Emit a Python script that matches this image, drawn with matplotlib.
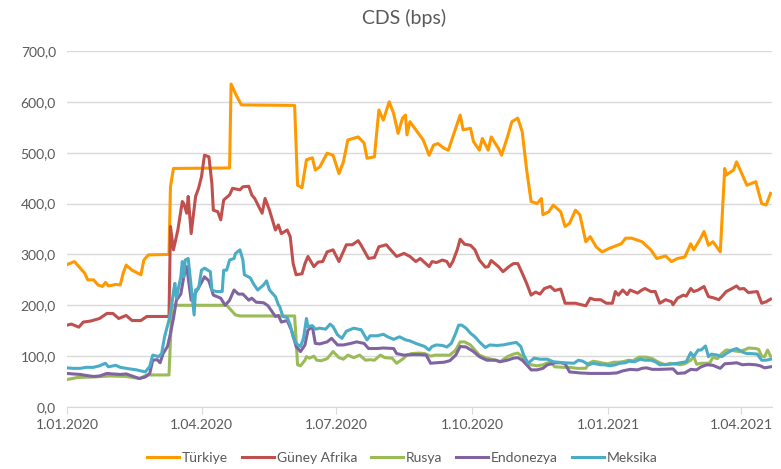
import numpy as np
import pandas as pd
import matplotlib
matplotlib.use('Agg')
import matplotlib.pyplot as plt
import matplotlib.dates as mdates
from matplotlib.ticker import FuncFormatter

plt.rcParams['font.family'] = ['Lato', 'DejaVu Sans']

# day offsets from 1.01.2020 and CDS values (bps)
tr_days = [0, 5, 9, 12, 14, 18, 21, 24, 26, 28, 33, 36, 38, 40, 44, 48, 50, 52, 55, 69, 70, 72,
           110, 111, 115, 118, 154, 156, 159, 162, 166, 168, 171, 176, 180, 184, 187, 190, 197, 201,
           203, 208, 210, 211, 214, 218, 221, 224, 227, 229, 230, 232, 237, 241, 245, 248, 251, 255,
           258, 261, 266, 268, 273, 275, 279, 281, 285, 287, 292, 294, 298, 301, 305, 308, 311, 314,
           318, 321, 322, 326, 329, 334, 337, 340, 344, 347, 351, 354, 358, 362, 367, 375, 378, 382,
           389, 395, 399, 405, 409, 413, 418, 422, 424, 428, 431, 434, 437, 442, 445, 446, 451, 453,
           457, 460, 466, 470, 473, 476]
tr_vals = [280, 286, 273, 263, 250, 250, 240, 237, 245, 238, 241, 240, 263, 279, 269, 263, 260, 289, 299, 300, 433, 469,
           470, 635, 610, 594, 593, 436, 431, 486, 490, 466, 472, 499, 495, 459, 482, 525, 531, 519,
           489, 492, 554, 584, 564, 600, 577, 538, 568, 574, 535, 561, 541, 525, 495, 515, 518, 509,
           505, 531, 574, 545, 548, 522, 505, 528, 505, 531, 508, 495, 531, 561, 568, 541, 466, 404,
           400, 410, 378, 384, 397, 384, 355, 361, 387, 378, 325, 335, 315, 305, 312, 321, 332, 332,
           325, 309, 292, 297, 286, 292, 295, 321, 309, 328, 345, 318, 325, 305, 469, 456, 466, 482,
           456, 436, 443, 400, 397, 420]

za_days = [0, 3, 8, 11, 16, 22, 27, 31, 35, 40, 44, 50, 54, 69, 70, 72, 75, 78, 79, 81, 82, 84, 87, 89,
           91, 93, 96, 98, 99, 102, 104, 106, 110, 112, 117, 119, 123, 125, 127, 132, 134, 137, 141,
           143, 145, 149, 151, 153, 155, 159, 161, 163, 167, 170, 173, 176, 180, 184, 189, 193, 197,
           199, 204, 208, 211, 216, 219, 223, 228, 232, 236, 239, 245, 247, 250, 254, 257, 259, 261,
           264, 266, 269, 273, 276, 279, 283, 285, 287, 292, 295, 299, 302, 305, 308, 311, 314, 317,
           320, 323, 327, 330, 334, 337, 344, 348, 351, 354, 357, 361, 365, 369, 371, 373, 376, 379,
           381, 386, 389, 391, 395, 398, 401, 405, 409, 410, 413, 417, 419, 422, 424, 427, 431, 434,
           437, 441, 443, 446, 450, 453, 455, 458, 461, 467, 470, 473, 476]
za_vals = [161, 163, 157, 167, 169, 174, 184, 184, 174, 180, 170, 170, 178, 178, 355, 309, 348, 404, 400, 381, 414, 341, 414, 430,
           453, 495, 492, 440, 387, 384, 368, 407, 417, 430, 427, 433, 434, 417, 410, 381, 410, 387, 348,
           358, 341, 348, 335, 282, 260, 262, 282, 296, 276, 285, 286, 305, 309, 286, 319, 319, 327,
           318, 292, 294, 315, 319, 309, 296, 302, 296, 286, 292, 276, 286, 284, 289, 286, 276, 286,
           309, 330, 320, 318, 309, 289, 275, 276, 288, 276, 266, 276, 282, 282, 263, 243, 220, 226,
           222, 233, 237, 229, 232, 204, 204, 201, 199, 214, 211, 211, 204, 204, 227, 220,
           230, 221, 230, 224, 230, 233, 227, 227, 204, 211, 207, 201, 214, 220, 218, 233, 227, 230,
           237, 217, 215, 211, 217, 227, 233, 238, 232, 233, 225, 227, 204, 207, 212]

ru_days = [0, 7, 18, 29, 40, 49, 54, 69, 71, 108, 114, 117, 154, 156, 158, 161, 162, 164, 167, 169,
           172, 176, 180, 184, 187, 190, 194, 198, 202, 205, 208, 212, 215, 220, 223, 227, 230, 233,
           238, 242, 246, 249, 256, 259, 263, 266, 269, 273, 276, 279, 284, 290, 293, 298, 302, 305,
           308, 311, 314, 318, 322, 327, 330, 336, 340, 345, 351, 353, 356, 360, 363, 366, 370, 373,
           376, 380, 383, 387, 392, 396, 399, 402, 405, 408, 415, 418, 422, 424, 426, 429, 433, 435,
           437, 440, 443, 446, 450, 455, 459, 461, 466, 468, 470, 472, 474, 476]
ru_vals = [54, 58, 59, 61, 60, 56, 63, 63, 200, 200, 181, 179, 179, 83, 81, 92, 99, 96, 100, 92,
           91, 95, 109, 97, 94, 102, 97, 102, 92, 93, 92, 102, 97, 96, 86, 94, 102, 105,
           106, 105, 100, 102, 102, 102, 112, 128, 128, 122, 112, 102, 96, 92, 89, 99, 104, 106,
           99, 86, 83, 81, 83, 89, 79, 78, 78, 76, 76, 86, 90, 88, 86, 85, 88, 88,
           89, 92, 91, 98, 98, 95, 90, 86, 83, 86, 83, 85, 92, 99, 84, 86, 86, 87,
           98, 95, 105, 112, 111, 109, 113, 116, 115, 113, 100, 99, 112, 100]

id_days = [0, 4, 9, 13, 18, 22, 27, 31, 36, 40, 45, 49, 53, 56, 58, 61, 63, 65, 68, 70, 72, 74, 77,
           79, 81, 84, 88, 91, 93, 96, 99, 104, 107, 110, 113, 116, 119, 123, 125, 128, 133, 136,
           141, 143, 145, 149, 152, 155, 158, 161, 163, 166, 168, 171, 176, 179, 183, 187, 192, 196,
           201, 204, 210, 214, 221, 223, 228, 234, 239, 243, 246, 250, 255, 259, 263, 266, 270, 275,
           279, 284, 290, 293, 298, 302, 305, 308, 311, 314, 318, 322, 325, 328, 330, 334, 337, 340,
           347, 354, 361, 367, 372, 376, 381, 386, 389, 392, 396, 401, 410, 413, 418, 422, 426, 429,
           433, 437, 442, 445, 450, 453, 457, 461, 466, 469, 472, 476]
id_vals = [66, 65, 64, 62, 60, 61, 66, 65, 64, 65, 60, 56, 59, 66, 92, 93, 87, 105, 119, 145, 174, 210, 222,
           256, 276, 210, 230, 245, 256, 248, 220, 214, 200, 210, 230, 222, 222, 210, 214, 206, 205, 199,
           178, 180, 167, 170, 150, 119, 109, 122, 151, 158, 125, 124, 128, 135, 122, 122, 125, 128,
           125, 115, 115, 116, 115, 105, 102, 103, 103, 102, 86, 87, 88, 91, 102, 119, 118, 109,
           99, 92, 92, 89, 92, 96, 97, 92, 83, 73, 73, 76, 83, 85, 87, 87, 85, 69,
           67, 66, 66, 66, 67, 71, 74, 73, 76, 77, 74, 74, 75, 66, 67, 74, 73, 79,
           83, 82, 76, 85, 86, 87, 83, 84, 83, 81, 77, 79]

mx_days = [0, 4, 9, 13, 18, 22, 26, 28, 33, 36, 40, 47, 53, 56, 58, 62, 64, 66, 69, 71, 72, 73, 74,
           77, 78, 79, 80, 82, 84, 86, 87, 89, 91, 93, 97, 98, 101, 105, 106, 108, 110, 113, 114,
           117, 119, 120, 124, 126, 129, 133, 135, 137, 141, 143, 144, 146, 149, 151, 153, 155, 158,
           160, 162, 163, 166, 168, 171, 175, 178, 180, 183, 186, 189, 194, 197, 199, 203, 205, 210,
           214, 217, 221, 225, 229, 232, 236, 239, 242, 245, 247, 250, 254, 257, 260, 263, 265, 267,
           270, 273, 276, 279, 283, 286, 291, 295, 300, 304, 307, 309, 312, 316, 320, 325, 329, 336,
           343, 346, 349, 353, 356, 361, 364, 367, 371, 374, 378, 380, 384, 388, 391, 395, 398, 401,
           408, 413, 417, 419, 422, 424, 427, 429, 432, 434, 436, 440, 443, 446, 450, 453, 457, 460,
           463, 467, 470, 473, 476]
mx_vals = [77, 76, 76, 78, 78, 81, 86, 79, 82, 78, 76, 73, 69, 80, 102, 99, 105, 138, 171, 204, 227, 243, 214,
           256, 286, 256, 289, 292, 237, 181, 230, 233, 269, 273, 266, 230, 227, 227, 269, 269, 289, 292, 302,
           309, 289, 260, 254, 243, 230, 240, 248, 230, 217, 201, 197, 178, 176, 161, 138, 125, 119,
           135, 174, 158, 160, 153, 155, 153, 163, 158, 142, 135, 149, 155, 153, 152, 132, 140, 140,
           143, 138, 133, 138, 132, 130, 125, 122, 119, 112, 119, 122, 121, 118, 125, 145, 161, 161,
           155, 145, 138, 128, 117, 122, 121, 122, 125, 127, 119, 102, 86, 96, 94, 94, 89, 87,
           86, 92, 90, 83, 86, 83, 83, 81, 83, 86, 87, 90, 89, 94, 92, 92, 89, 83,
           84, 86, 88, 89, 107, 99, 112, 112, 120, 99, 104, 102, 99, 105, 112, 115, 108, 105,
           105, 104, 92, 92, 94]

series = [
    ('Türkiye', tr_days, tr_vals, '#FF9900'),
    ('Güney Afrika', za_days, za_vals, '#C0504D'),
    ('Rusya', ru_days, ru_vals, '#9BBB59'),
    ('Endonezya', id_days, id_vals, '#8064A2'),
    ('Meksika', mx_days, mx_vals, '#4BACC6'),
]

start = pd.Timestamp('2020-01-01')
tick_dates = ['2020-01-01', '2020-04-01', '2020-07-01', '2020-10-01', '2021-01-01', '2021-04-01']

fig = plt.figure(figsize=(7.81, 4.69), dpi=100)
ax = fig.add_axes([0.0858, 0.1322, 0.9027, 0.7591])

for name, days, vals, col in series:
    dates = start + pd.to_timedelta(days, unit='D')
    ax.plot(dates, vals, color=col, lw=2.2, label=name, solid_joinstyle='round')

ax.set_ylim(0, 700)
ax.set_yticks(np.arange(0, 701, 100))
ax.yaxis.set_major_formatter(FuncFormatter(lambda v, p: f'{v:.1f}'.replace('.', ',')))
ax.set_xlim(start, start + pd.Timedelta(days=477))
ax.set_xticks(pd.to_datetime(tick_dates))
ax.xaxis.set_major_formatter(FuncFormatter(
    lambda v, p: (lambda d: f'{d.day}.{d.month:02d}.{d.year}')(mdates.num2date(v))))

ax.grid(axis='y', color='#D9D9D9', lw=1)
ax.set_axisbelow(True)
for s in ['top', 'right', 'left']:
    ax.spines[s].set_visible(False)
ax.spines['bottom'].set_color('#D9D9D9')
ax.tick_params(axis='y', length=0, colors='#595959', labelsize=10, pad=8)
ax.tick_params(axis='x', length=5, color='#D9D9D9', colors='#595959', labelsize=10, pad=4)

fig.text(0.517, 1 - 18 / 469, 'CDS (bps)', fontsize=14, color='#595959', ha='center', va='center')
fig.legend(loc='center', bbox_to_anchor=(0.515, 1 - 458 / 469), ncol=5, frameon=False,
           fontsize=10, labelcolor='#595959', handlelength=2.3, handletextpad=0.2,
           columnspacing=1.0)

fig.savefig('out.png', dpi=100)
